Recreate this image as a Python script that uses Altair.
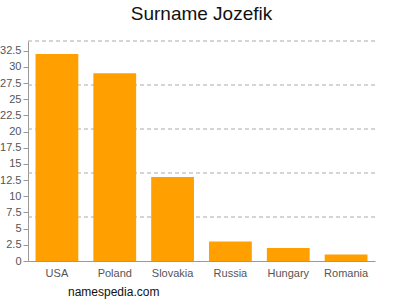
import altair as alt
import pandas as pd

countries = ["USA", "Poland", "Slovakia", "Russia", "Hungary", "Romania"]
counts = [32, 29, 13, 3, 2, 1]
y_ticks = [0, 2.5, 5, 7.5, 10, 12.5, 15, 17.5, 20, 22.5, 25, 27.5, 30, 32.5]
grid_vals = [6.8, 13.6, 20.4, 27.2, 34]
y_max = 34

df = pd.DataFrame({"country": countries, "count": counts})
grid_df = pd.DataFrame({"g": grid_vals})

FONT = "Liberation Sans"

bars = alt.Chart(df).mark_bar(color="#FFA000").encode(
    x=alt.X("country:N", sort=countries, title=None,
            scale=alt.Scale(paddingInner=0.26, paddingOuter=0.13),
            axis=alt.Axis(labelAngle=0, labelColor="#555555", labelFontSize=11,
                          labelFont=FONT, ticks=False, domainColor="#999999",
                          labelPadding=6)),
    y=alt.Y("count:Q", title=None,
            scale=alt.Scale(domain=[0, y_max], nice=False),
            axis=alt.Axis(values=y_ticks, grid=False, labelColor="#555555",
                          labelFontSize=11, labelFont=FONT, tickColor="#999999",
                          domainColor="#999999", tickSize=5, labelPadding=2,
                          labelOverlap=False, labelFlush=False, format=".1~f")),
)

grid = alt.Chart(grid_df).mark_rule(color="#AAAAAA", strokeDash=[4, 3], strokeWidth=1).encode(
    y=alt.Y("g:Q", scale=alt.Scale(domain=[0, y_max], nice=False), axis=None),
)

credit = alt.Chart(pd.DataFrame({"t": ["namespedia.com"]})).mark_text(
    align="left", baseline="middle", fontSize=12, font=FONT, color="#111111"
).encode(x=alt.value(40), y=alt.value(251), text="t:N")

chart = alt.layer(grid, bars, credit).resolve_axis(y="independent").properties(
    width=347, height=220,
    title=alt.TitleParams("Surname Jozefik", fontSize=19, font=FONT,
                          fontWeight="normal", color="#111111", offset=17),
    autosize=alt.AutoSizeParams(type="none"),
    padding={"left": 28, "top": 41, "right": 25, "bottom": 39},
).configure_view(stroke=None)

chart.save("out.html", embed_options={"renderer": "svg", "actions": False})
